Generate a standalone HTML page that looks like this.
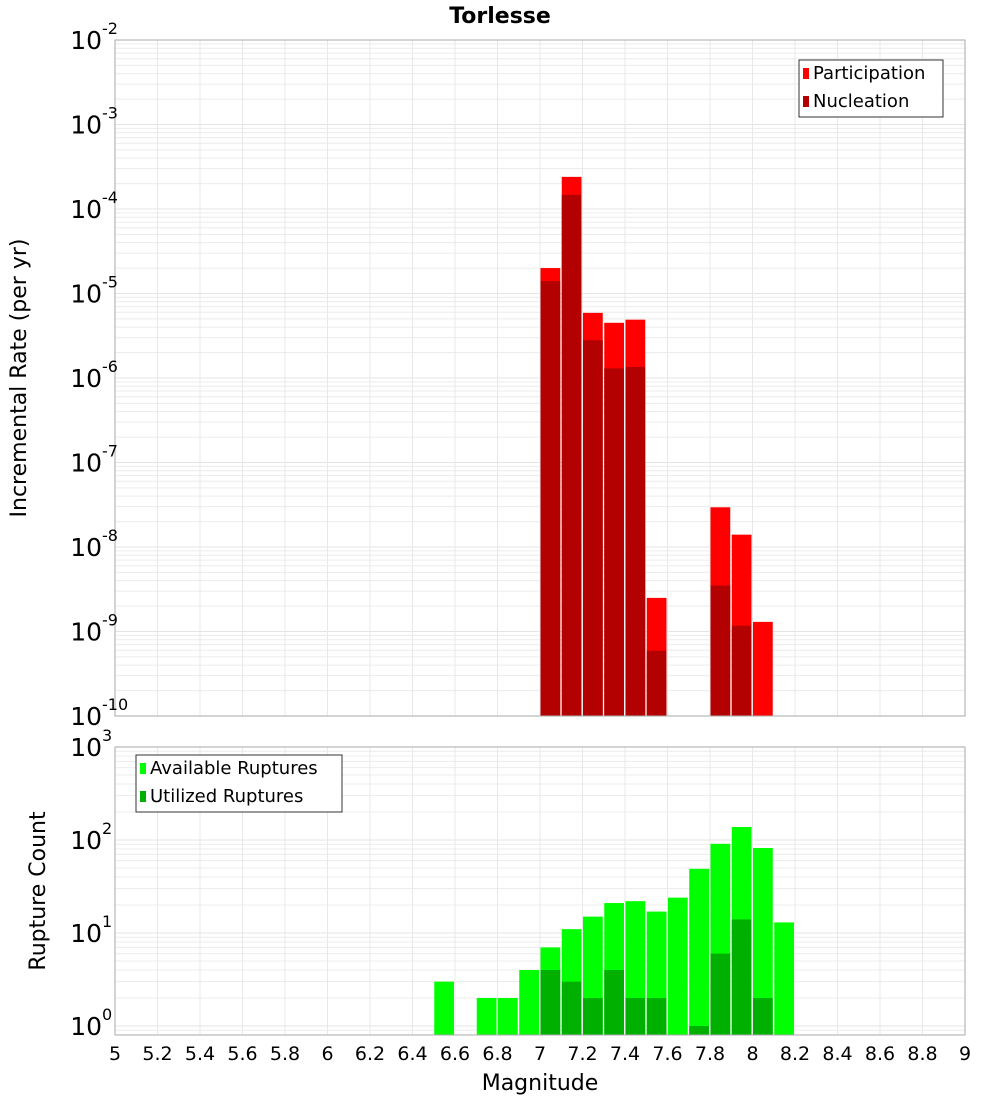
<!DOCTYPE html>
<html><head><meta charset="utf-8"><style>
body{margin:0;background:#fff;font-family:"Liberation Sans","DejaVu Sans",sans-serif}
svg text{font-family:"DejaVu Sans","Liberation Sans",sans-serif}
</style></head><body>
<svg id="c" width="1000" height="1100" xmlns="http://www.w3.org/2000/svg"></svg>
<script>
const mags=[7.0,7.1,7.2,7.3,7.4,7.5,7.8,7.9,8.0];
const participation=[2.0e-5,2.4e-4,5.9e-6,4.5e-6,4.9e-6,2.5e-9,2.95e-8,1.4e-8,1.3e-9];
const nucleation=[1.4e-5,1.47e-4,2.8e-6,1.3e-6,1.35e-6,5.9e-10,3.5e-9,1.17e-9,null];
const countMags=[6.5,6.7,6.8,6.9,7.0,7.1,7.2,7.3,7.4,7.5,7.6,7.7,7.8,7.9,8.0,8.1];
const available=[3,2,2,4,7,11,15,21,22,17,24,49,91,138,82,13];
const utilized=[0,0,0,0,4,3,2,4,2,2,0,1,6,14,2,0];
const xTicks=[5,5.2,5.4,5.6,5.8,6,6.2,6.4,6.6,6.8,7,7.2,7.4,7.6,7.8,8,8.2,8.4,8.6,8.8,9];
const topExps=[-2,-3,-4,-5,-6,-7,-8,-9,-10];
const botExps=[3,2,1,0];

const NS="http://www.w3.org/2000/svg";
const svg=document.getElementById('c');
function mk(t,a,p){const e=document.createElementNS(NS,t);for(const k in a)e.setAttribute(k,a[k]);(p||svg).appendChild(e);return e;}
const L=115,R=965;
const X=m=>L+(m-5)/4*(R-L);
const T0=40,T1=716,B0=747,B1=1035;
const yTop=v=>T0+(-2-Math.log10(v))*(T1-T0)/8;
const bPx=93;
const yBot=v=>1026-Math.log10(v)*bPx;

function grid(y0,y1,ylog,lo,hi){
  for(let d=lo;d<hi;d++)for(let k=1;k<10;k++){const y=ylog(Math.pow(10,d)*k);if(y>=y0&&y<=y1){const g=mk('line',{x1:L,x2:R,y1:y,y2:y,stroke:k==1?'#e4e4e4':'#ececec','stroke-width':1});}}
  xTicks.forEach(t=>{const g=mk('line',{x1:X(t),x2:X(t),y1:y0,y2:y1,stroke:'#e8e8e8'});});
}
grid(T0,T1,yTop,-10,-2);
grid(B0,B1,yBot,-1,3);

mags.forEach((m,i)=>{
  const x=X(m)+0.5,w=X(m+0.1)-X(m)-1.5;
  let r=mk('rect',{x:x,y:yTop(participation[i]),width:w,height:T1-yTop(participation[i]),fill:'#ff0000'});
  
  
  if(nucleation[i]){r=mk('rect',{x:x,y:yTop(nucleation[i]),width:w,height:T1-yTop(nucleation[i]),fill:'#b30000'});
  
  }
});
countMags.forEach((m,i)=>{
  const x=X(m)+0.5,w=X(m+0.1)-X(m)-1.5;
  let r=mk('rect',{x:x,y:yBot(available[i]),width:w,height:B1-yBot(available[i]),fill:'#00ff00'});
  
  
  if(utilized[i]>0){r=mk('rect',{x:x,y:yBot(utilized[i]),width:w,height:B1-yBot(utilized[i]),fill:'#00b000'});
  
  }
});
let b=mk('rect',{x:L,y:T0,width:R-L,height:T1-T0,fill:'none',stroke:'#aaa'});

b=mk('rect',{x:L,y:B0,width:R-L,height:B1-B0,fill:'none',stroke:'#aaa'});


function pow(y,e,name){
  const g=mk('g',{});
  
  
  const t=mk('text',{x:102,y:y+9,'text-anchor':'end','font-size':25,fill:'#000'},g);t.textContent='10';
  const s=mk('text',{x:102,y:y-6,'font-size':16,fill:'#000'},g);s.textContent=String(e);
}
topExps.forEach(e=>pow(yTop(Math.pow(10,e)),e,'top-y-tick-label'));
botExps.forEach(e=>pow(yBot(Math.pow(10,e)),e,'bottom-y-tick-label'));
xTicks.forEach(t=>{const e=mk('text',{x:X(t),y:1060,'text-anchor':'middle','font-size':19,fill:'#000'});e.textContent=String(t);
});
let e=mk('text',{x:500,y:23,'text-anchor':'middle','font-size':22,'font-weight':'bold'});e.textContent='Torlesse';

e=mk('text',{x:540,y:1090,'text-anchor':'middle','font-size':22});e.textContent='Magnitude';

e=mk('text',{x:0,y:0,'text-anchor':'middle','font-size':22,transform:'translate(26,378) rotate(-90)'});e.textContent='Incremental Rate (per yr)';

e=mk('text',{x:0,y:0,'text-anchor':'middle','font-size':22,transform:'translate(45,891) rotate(-90)'});e.textContent='Rupture Count';


function legend(x,y,w,items,name){
  const g=mk('g',{});
  mk('rect',{x:x,y:y,width:w,height:57,fill:'#fff',stroke:'#333'},g);
  items.forEach((it,i)=>{
    mk('rect',{x:x+4,y:y+8+i*28,width:6,height:11,fill:it[1]},g);
    const t=mk('text',{x:x+14,y:y+19+i*28,'font-size':18},g);t.textContent=it[0];
  });
}
legend(799,60,144,[['Participation','#ff0000'],['Nucleation','#b30000']],'top-legend');
legend(136,755,206,[['Available Ruptures','#00ff00'],['Utilized Ruptures','#00b000']],'bottom-legend');
</script>
</body></html>
